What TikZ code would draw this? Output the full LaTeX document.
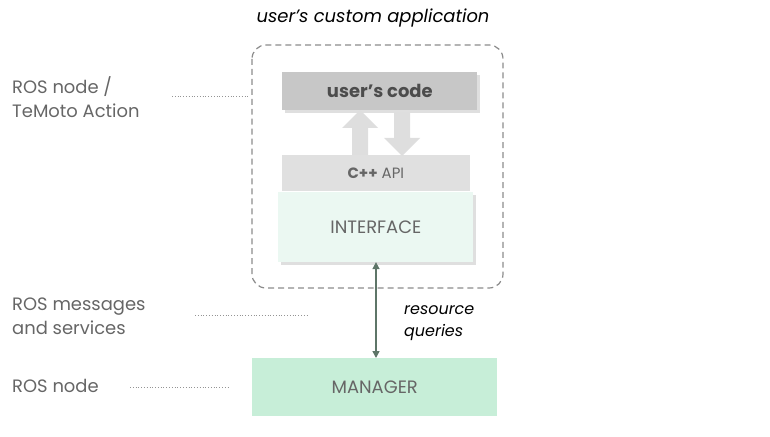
\documentclass[tikz,border=0pt]{standalone}
\usepackage{fontspec}
\setmainfont{Poppins}
\usetikzlibrary{arrows.meta,shadows}
\definecolor{txt}{HTML}{666666}
\definecolor{link}{HTML}{5E7568}
\begin{document}
\begin{tikzpicture}[x=1bp,y=-1bp,
  box/.style={rectangle,draw=none,anchor=north west,inner sep=0pt,text=txt,font=\fontsize{18}{20}\selectfont},
  lbl/.style={anchor=west,align=left,text=txt,inner sep=0pt,font=\fontsize{18}{24}\selectfont},
  dots/.style={dotted,thick,txt!70},
  blk/.style={draw=none,fill=black!13}]
  \useasboundingbox (0,0) rectangle (770,437);
  \node[font=\itshape\fontsize{18}{20}\selectfont] (app) at (373,18) {user’s custom application};
  \draw[dash pattern=on 6pt off 4pt,line width=1.2,black!45,rounded corners=14] (252,45) rectangle (503,288);
  \node[box,fill=black!22,drop shadow={opacity=0.25},minimum width=196,minimum height=38,text=black!70,font=\fontsize{18}{20}\selectfont] (code) at (282,72) {\textbf{user’s code}};
  \node[box,fill=black!12,minimum width=188,minimum height=36,font=\fontsize{15}{16}\selectfont] (api) at (282,155) {\textbf{C++} API};
  \node[box,fill=green!30!teal!8,drop shadow={opacity=0.25},minimum width=196,minimum height=70] (iface) at (278,192) {INTERFACE};
  \node[box,fill=green!40!teal!22,minimum width=246,minimum height=58] (mgr) at (252,358) {MANAGER};
  % block arrows between code and API
  \fill[blk] (352,155) -- (352,128) -- (342,128) -- (360,110) -- (378,128) -- (368,128) -- (368,155) -- cycle;
  \fill[blk] (394,112) -- (410,112) -- (410,138) -- (420,138) -- (402,156) -- (384,138) -- (394,138) -- cycle;
  \draw[{Triangle[length=7,width=7]}-{Triangle[length=7,width=7]},link,line width=1.5] (iface.south -| 376,0) -- (mgr.north -| 376,0);
  \node[anchor=west,align=left,inner sep=0pt,font=\itshape\fontsize{16}{22}\selectfont] (rq) at (404,323) {resource\\queries};
  % layer labels
  \node[lbl] (l1) at (12,97) {ROS node /\\TeMoto Action};
  \node[lbl] (l2) at (12,316) {ROS messages\\and services};
  \node[lbl] (l3) at (12,386) {ROS node};
  \coordinate (e1) at (250,96);
  \coordinate (e2) at (308,315);
  \coordinate (e3) at (228,387);
  \draw[dots] (172,96) -- (e1);
  \draw[dots] (195,315) -- (e2);
  \draw[dots] (130,387) -- (e3);
\end{tikzpicture}
\end{document}
